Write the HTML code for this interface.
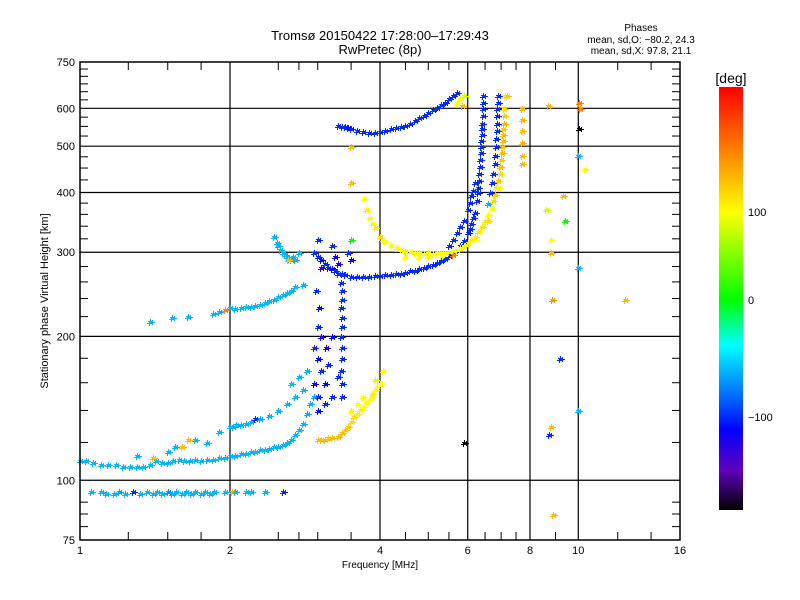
<!DOCTYPE html>
<html><head><meta charset="utf-8"><style>
html,body{margin:0;padding:0;background:#fff;}
svg{display:block;font-family:"Liberation Sans",sans-serif;}
</style></head><body>
<svg id="chart" width="800" height="600" viewBox="0 0 800 600">
<defs>
<linearGradient id="cbg" x1="0" y1="0" x2="0" y2="1">
<stop offset="0" stop-color="#ff0000"/>
<stop offset="0.149" stop-color="#ff8000"/>
<stop offset="0.296" stop-color="#ffff00"/>
<stop offset="0.504" stop-color="#00ff00"/>
<stop offset="0.61" stop-color="#00ffff"/>
<stop offset="0.74" stop-color="#0060ff"/>
<stop offset="0.81" stop-color="#0000ff"/>
<stop offset="0.905" stop-color="#6000c0"/>
<stop offset="1" stop-color="#000000"/>
</linearGradient>
</defs>
<g id="grid"></g>
<g id="points" shape-rendering="crispEdges"></g>
<rect x="80" y="62" width="600" height="478" fill="none" stroke="#000" stroke-width="1.5"/>
<g id="ticks"></g>
<text x="380" y="40" font-size="13" text-anchor="middle">Tromsø 20150422 17:28:00–17:29:43</text>
<text x="380" y="54" font-size="13" text-anchor="middle">RwPretec (8p)</text>
<text x="641" y="31" font-size="10" text-anchor="middle">Phases</text>
<text x="641" y="43" font-size="10" text-anchor="middle">mean, sd,O: −80.2, 24.3</text>
<text x="641" y="54" font-size="10" text-anchor="middle">mean, sd,X:  97.8, 21.1</text>
<text x="380" y="568" font-size="10" text-anchor="middle">Frequency [MHz]</text>
<text transform="translate(48,301) rotate(-90)" font-size="11" text-anchor="middle">Stationary phase Virtual Height [km]</text>
<rect x="719" y="87" width="24" height="423" fill="url(#cbg)"/>
<text x="731" y="83" font-size="14" text-anchor="middle">[deg]</text>
<text x="748" y="216" font-size="11">100</text>
<text x="748" y="304" font-size="11">0</text>
<text x="748" y="421" font-size="11">−100</text>
</svg>
<script>
// ---- data: [frequency MHz, virtual height km, phase deg] ----
const traceE95 = [[1.05,95,-60],[1.1,95,-60],[1.13,94,-60],[1.17,94,-60],[1.2,95,-65],[1.23,94,-60],[1.28,95,-100],[1.32,94,-60],[1.36,95,-60],[1.4,94,-60],[1.43,95,-60],[1.46,94,-60],[1.5,95,-70],[1.53,94,-60],[1.56,95,-60],[1.6,94,-60],[1.63,95,-60],[1.67,94,-60],[1.7,95,-60],[1.75,94,-60],[1.78,95,-60],[1.82,94,-60],[1.86,95,-60],[1.95,95,-60],[2.02,95,140],[2.05,95,-60],[2.15,95,-60],[2.2,95,-60],[2.35,95,-60],[2.55,95,-100]];
const traceE110 = [[1.0,110,-60],[1.03,110,-60],[1.06,109,-60],[1.1,108,-60],[1.14,108,-60],[1.18,108,-60],[1.22,107,-60],[1.26,107,-60],[1.3,107,-60],[1.34,107,-60],[1.38,108,-60],[1.42,110,-60],[1.46,109,-60],[1.5,109,-60],[1.54,110,-60],[1.58,111,-60],[1.62,110,-60],[1.66,110,-60],[1.7,111,-60],[1.75,110,-60],[1.8,111,-60],[1.85,111,-60],[1.9,112,-60],[1.95,112,-60],[2.0,113,-60],[2.05,113,-60],[2.1,114,-60],[2.15,114,-60],[2.2,115,-60],[2.25,115,-60],[2.3,116,-60],[2.35,116,-60],[2.4,117,-60],[2.45,118,-60],[2.5,118,-60],[2.55,119,-60],[2.6,120,-60],[2.65,122,-60],[2.7,125,-60],[2.75,128,-60],[2.8,132,-60],[2.85,138,-60],[2.9,145,-60],[2.95,150,-60]];
const traceE130 = [[1.3,113,-60],[1.4,112,140],[1.5,115,-60],[1.55,118,-60],[1.6,118,140],[1.65,122,140],[1.7,122,-60],[1.8,120,-60],[1.9,127,-60],[2.0,130,-60],[2.03,130,-60],[2.06,131,-60],[2.1,131,-60],[2.15,132,-60],[2.2,133,-60],[2.25,135,-100],[2.3,135,-60],[2.4,137,-60],[2.5,140,-60],[2.6,145,-60],[2.65,160,-60],[2.7,150,-60],[2.75,165,-60],[2.8,155,-60],[2.85,170,-60]];
const traceF230 = [[1.38,215,-60],[1.53,220,-60],[1.65,221,-60],[1.85,224,-60],[1.9,226,-60],[1.95,228,170],[2.0,230,-60],[2.05,229,-60],[2.1,230,-60],[2.15,231,-60],[2.2,232,-60],[2.25,233,-60],[2.3,234,-60],[2.35,236,-60],[2.4,238,-60],[2.45,240,-60],[2.5,243,-60],[2.55,245,-60],[2.6,248,-60],[2.65,250,-60],[2.7,255,-60],[2.8,258,-60]];
const clusterF300 = [[2.45,325,-60],[2.48,315,-60],[2.5,310,-60],[2.52,305,-60],[2.55,300,-60],[2.58,297,-60],[2.6,295,-60],[2.63,292,-60],[2.65,291,-60],[2.68,295,-60],[2.7,290,-60],[2.75,300,-60],[2.62,290,140]];
const traceO1 = [[2.95,300,-100],[3.0,295,-100],[3.05,290,-110],[3.1,285,-100],[3.15,280,-100],[3.2,278,-110],[3.25,275,-100],[3.3,272,-100],[3.35,271,-100],[3.4,270,-100],[3.5,268,-100],[3.6,268,-100],[3.7,268,-100],[3.8,268,-100],[3.9,269,-100],[4.0,269,-100],[4.1,270,-100],[4.2,270,-100],[4.3,271,-100],[4.4,272,-100],[4.5,273,-100],[4.6,275,-100],[4.7,276,-100],[4.8,278,-100],[4.9,280,-100],[5.0,282,-100],[5.1,284,-100],[5.2,286,-100],[5.3,289,-100],[5.4,292,-100],[5.5,296,-100],[5.6,300,-100],[5.7,305,-100],[5.8,310,-100],[5.9,318,-100],[6.0,330,-100],[6.05,337,-100],[6.1,345,-100],[6.15,355,-100],[6.2,365,-100],[6.25,385,-100],[6.28,400,-100],[6.3,410,-100],[6.32,425,-100],[6.33,440,-100],[6.35,455,-100],[6.36,470,-100],[6.37,485,-100],[6.38,500,-100],[6.39,515,-100],[6.4,530,-100],[6.41,545,-100],[6.42,560,-100],[6.43,580,-100],[6.44,600,-100],[6.45,620,-100],[6.45,640,-100]];
const traceO2 = [[5.5,310,-100],[5.6,320,-100],[5.7,330,-100],[5.8,340,-100],[5.9,350,-100],[6.0,370,-100],[6.05,382,-100],[6.1,395,-100],[6.15,405,-100],[6.2,420,-100],[6.6,380,-60],[6.65,400,-100],[6.7,420,-100],[6.75,440,-100],[6.8,460,-100],[6.82,480,-100],[6.84,500,-100],[6.85,520,-100],[6.86,540,-100],[6.87,560,-100],[6.88,580,-100],[6.88,600,-100],[6.9,620,-100],[6.9,640,-100]];
const colO = [[3.0,140,-110],[3.0,150,-100],[2.95,160,-120],[3.05,170,-100],[3.0,180,-110],[2.95,190,-100],[3.05,200,-120],[3.0,210,-100],[3.02,230,-110],[2.98,250,-100],[3.05,280,-130],[3.0,320,-100],[3.1,145,-100],[3.1,160,-110],[3.12,190,-120],[3.15,175,-100],[3.2,150,-100],[3.2,200,-110],[3.35,150,-100],[3.36,160,-100],[3.34,170,-100],[3.35,180,-100],[3.36,190,-100],[3.34,200,-100],[3.35,210,-100],[3.36,220,-100],[3.34,230,-100],[3.35,240,-100],[3.36,250,-100],[3.34,260,-100],[3.3,165,-100],[3.3,285,-120],[3.45,300,-100],[3.5,290,-110],[3.2,310,-100],[3.25,295,-120]];
const traceX1 = [[3.72,390,100],[3.75,370,110],[3.8,355,100],[3.85,345,100],[3.9,338,110],[4.0,325,120],[4.05,320,100],[4.1,316,100],[4.2,312,100],[4.3,308,100],[4.4,305,100],[4.5,303,90],[4.6,302,100],[4.7,300,100],[4.8,300,100],[4.9,299,100],[5.0,300,100],[5.1,299,100],[5.2,300,100],[5.3,300,100],[5.4,301,100],[5.5,302,110],[5.6,303,100],[5.7,305,100],[5.8,308,100],[5.9,311,100],[6.0,315,100],[6.1,320,110],[6.2,325,110],[6.3,332,110],[6.4,340,120],[6.5,350,110],[6.6,360,100],[6.7,372,100],[6.75,385,120],[6.8,398,130],[6.85,410,120],[6.9,425,130],[6.95,440,120],[6.98,455,140],[7.0,470,130],[7.02,485,140],[7.03,500,130],[7.05,515,140],[7.06,530,140],[7.07,545,130],[7.08,560,140],[7.09,580,130],[7.1,600,120],[7.12,640,110],[4.5,295,100],[4.8,294,100],[5.0,295,100],[5.3,296,100],[5.6,297,170],[6.2,320,100],[6.6,350,120],[6.9,410,100],[7.2,640,130]];
const traceX2 = [[3.0,122,140],[3.05,122,140],[3.1,122,140],[3.15,123,130],[3.2,123,140],[3.3,124,140],[3.35,126,140],[3.4,128,130],[3.45,130,130],[3.5,133,120],[3.55,136,120],[3.6,138,110],[3.65,141,110],[3.7,143,100],[3.75,146,100],[3.8,148,100],[3.85,150,100],[3.9,155,100],[3.95,158,100],[4.0,160,100],[4.05,170,100],[3.5,140,110],[3.7,150,100],[3.85,152,110],[3.6,145,100],[3.9,163,90]];
const traceF2 = [[3.3,555,-100],[3.35,550,-100],[3.4,552,-100],[3.45,548,-120],[3.5,545,-100],[3.6,540,-100],[3.7,538,-100],[3.8,536,-100],[3.9,535,-100],[4.0,538,-100],[4.1,540,-100],[4.2,545,-100],[4.3,548,-100],[4.4,550,-100],[4.5,555,-100],[4.6,560,-100],[4.7,567,-100],[4.8,575,-100],[4.9,582,-100],[5.0,590,-100],[5.1,597,-100],[5.2,605,-100],[5.3,612,-100],[5.4,620,-100],[5.5,630,-100],[5.6,640,-100],[5.7,650,-100],[5.7,620,100],[5.8,630,100],[5.9,640,80],[5.85,610,140]];
const scatterRight = [[7.7,600,140],[7.7,570,140],[7.72,540,140],[7.7,510,140],[7.72,480,140],[7.7,460,140],[8.7,610,140],[8.8,320,100],[8.8,300,140],[8.85,240,160],[8.8,130,140],[8.75,125,-100],[8.9,85,140],[9.2,180,-100],[9.3,395,140],[9.4,350,0],[10.0,480,-60],[10.0,280,-60],[10.0,140,-60],[10.05,620,170],[10.05,545,-180],[10.1,600,170],[10.3,450,100],[12.4,240,140],[8.6,370,80],[5.9,120,-180],[3.5,500,140],[3.5,420,140],[3.5,320,0]];

const traces = [traceE95, traceE110, traceE130, traceF230, clusterF300, traceO1, traceO2, colO, traceX1, traceX2, traceF2, scatterRight];
const xTickLabels = [1,2,4,6,8,10,16];
const yTickLabels = [75,100,200,300,400,500,600,750];
const xGridVals = [2,4,6,8,10];
const yGridVals = [100,200,300,400,500,600];

const X0=80, X1=680, Y0=540, Y1=62;
function xs(f){ return X0 + (X1-X0)*Math.log2(f)/4; }
function ys(h){ return Y0 - (Y0-Y1)*Math.log10(h/75); }

const cbStops=[[87,[255,0,0]],[150,[255,128,0]],[212,[255,255,0]],[300,[0,255,0]],[345,[0,255,255]],[400,[0,96,255]],[430,[0,0,255]],[470,[96,0,192]],[510,[0,0,0]]];
function phaseY(p){
  if(p>=0){ return 300 - p*0.88; }
  return 300 - p*1.17;
}
function phaseColor(p){
  let y=Math.max(87,Math.min(510,phaseY(p)));
  for(let i=0;i<cbStops.length-1;i++){
    const a=cbStops[i], b=cbStops[i+1];
    if(y>=a[0] && y<=b[0]){
      const t=(y-a[0])/(b[0]-a[0]);
      const c=a[1].map((v,k)=>Math.round(v+(b[1][k]-v)*t));
      return 'rgb('+c.join(',')+')';
    }
  }
  return '#000';
}
const NS='http://www.w3.org/2000/svg';
const grid=document.getElementById('grid');
const ticks=document.getElementById('ticks');
const pts=document.getElementById('points');
function line(parent,x1,y1,x2,y2,w){
  const l=document.createElementNS(NS,'line');
  l.setAttribute('x1',x1);l.setAttribute('y1',y1);l.setAttribute('x2',x2);l.setAttribute('y2',y2);
  l.setAttribute('stroke','#000');l.setAttribute('stroke-width',w);
  parent.appendChild(l);return l;
}
function text(parent,x,y,s,anchor){
  const t=document.createElementNS(NS,'text');
  t.setAttribute('x',x);t.setAttribute('y',y);t.setAttribute('font-size','11');t.setAttribute('text-anchor',anchor);
  t.textContent=s;parent.appendChild(t);return t;
}
xGridVals.forEach(v=>{
  const l=line(grid,xs(v),Y1,xs(v),Y0,1.2);
  
  
});
yGridVals.forEach(v=>{
  const l=line(grid,X0,ys(v),X1,ys(v),1.2);
  
  
});
const yMinor=[80,85,90,120,140,160,180,220,240,260,280,320,340,360,380,425,450,475,525,550,575,625,650,675,700,725];
yMinor.forEach(v=>{ line(ticks,X0,ys(v),X0+8,ys(v),1); line(ticks,X1,ys(v),X1-8,ys(v),1); });
const xMinor=[1.25,1.5,1.75,2.5,2.75,3,3.5,4.5,5,5.5,6.5,7,7.5,9,12,14];
xMinor.forEach(v=>{ line(ticks,xs(v),Y0,xs(v),Y0-8,1); line(ticks,xs(v),Y1,xs(v),Y1+8,1); });
xTickLabels.forEach(v=>{
  const t=text(ticks,xs(v),554,String(v),'middle');
  
  
});
yTickLabels.forEach(v=>{
  const t=text(ticks,X0-5,ys(v)+4,String(v),'end');
  
  
});
// each echo drawn as a small cluster of "+" markers to mimic trace thickness
const clusterOffsets=[[0,0],[2,1],[-1,2]];
traces.forEach(tr=>{
  tr.forEach(p=>{
    const x=Math.round(xs(p[0])), y=Math.round(ys(p[1]));
    const col=phaseColor(p[2]);
    let d='';
    clusterOffsets.forEach(o=>{
      const cx=x+o[0], cy=y+o[1];
      d+='M'+(cx-2)+' '+cy+'h5v1h-5zM'+cx+' '+(cy-2)+'h1v5h-1z';
    });
    const path=document.createElementNS(NS,'path');
    path.setAttribute('d',d);
    path.setAttribute('fill',col);
    
    
    pts.appendChild(path);
  });
});
</script>
</body></html>
